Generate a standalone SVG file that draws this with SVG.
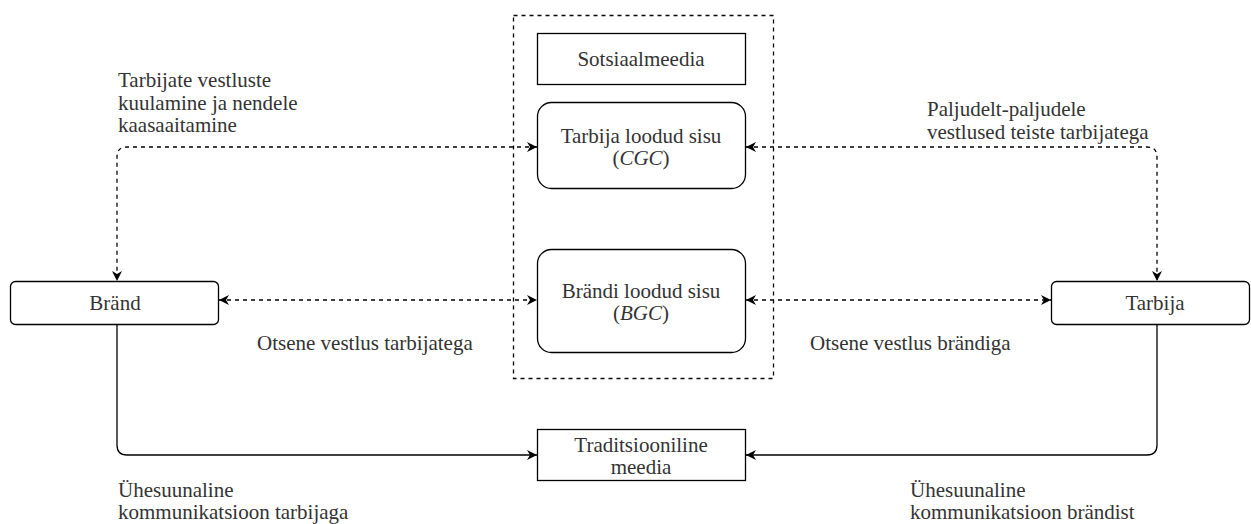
<svg xmlns="http://www.w3.org/2000/svg" width="1251" height="524" viewBox="0 0 1251 524">
<defs>
<style>
.box{fill:#fff;stroke:#000;stroke-width:1.3}
.t{font-family:"Liberation Serif","Times New Roman",serif;font-size:21px;fill:#333}
.c{text-anchor:middle}
.dash{fill:none;stroke:#000;stroke-width:1.3;stroke-dasharray:4 4}
.solid{fill:none;stroke:#000;stroke-width:1.3}
</style>
<marker id="ah" viewBox="0 0 10 10" refX="10" refY="5" markerWidth="10" markerHeight="10" markerUnits="userSpaceOnUse" orient="auto-start-reverse">
<path d="M0,0 L10,5 L0,10 L3,5 z" fill="#000"/>
</marker>
</defs>
<rect width="1251" height="524" fill="#fff"/>
<g id="container">
<rect x="513.5" y="15.5" width="260" height="363" fill="none" stroke="#000" stroke-width="1.3" stroke-dasharray="4 4"/>
</g>
<g id="connectors">
<path class="dash" d="M219,300 L537,300" marker-start="url(#ah)" marker-end="url(#ah)"/>
<path class="dash" d="M746,300 L1051,300" marker-start="url(#ah)" marker-end="url(#ah)"/>
<path class="dash" d="M537,147 L127,147 Q117,147 117,157 L117,281" marker-start="url(#ah)" marker-end="url(#ah)"/>
<path class="dash" d="M746,147 L1147,147 Q1157,147 1157,157 L1157,281" marker-start="url(#ah)" marker-end="url(#ah)"/>
<path class="solid" d="M117,325 L117,445 Q117,455 127,455 L537,455" marker-end="url(#ah)"/>
<path class="solid" d="M1157,325 L1157,445 Q1157,455 1147,455 L746,455" marker-end="url(#ah)"/>
</g>
<g id="sotsiaalmeedia">
<rect class="box" x="537.5" y="33.5" width="208" height="51"/>
<text class="t c" x="641" y="66">Sotsiaalmeedia</text>
</g>
<g id="cgc">
<rect class="box" x="537.5" y="102.5" width="208" height="86" rx="14"/>
<text class="t c" x="641" y="143">Tarbija loodud sisu</text>
<text class="t c" x="641" y="165">(<tspan font-style="italic">CGC</tspan>)</text>
</g>
<g id="bgc">
<rect class="box" x="537.5" y="249.5" width="208" height="103" rx="14"/>
<text class="t c" x="641" y="298">Brändi loodud sisu</text>
<text class="t c" x="641" y="320">(<tspan font-style="italic">BGC</tspan>)</text>
</g>
<g id="brand">
<rect class="box" x="10.5" y="281.5" width="208" height="43" rx="5"/>
<text class="t c" x="115" y="310">Bränd</text>
</g>
<g id="tarbija">
<rect class="box" x="1051.5" y="281.5" width="198" height="43" rx="5"/>
<text class="t c" x="1155" y="310">Tarbija</text>
</g>
<g id="trad">
<rect class="box" x="537.5" y="429.5" width="208" height="51"/>
<text class="t c" x="641" y="452">Traditsiooniline</text>
<text class="t c" x="641" y="474">meedia</text>
</g>
<g id="labels">
<text class="t" x="118" y="87">Tarbijate vestluste</text>
<text class="t" x="118" y="109.5">kuulamine ja nendele</text>
<text class="t" x="118" y="132">kaasaaitamine</text>
<text class="t" x="927" y="116">Paljudelt-paljudele</text>
<text class="t" x="927" y="138.5">vestlused teiste tarbijatega</text>
<text class="t" x="257" y="350">Otsene vestlus tarbijatega</text>
<text class="t" x="810" y="350">Otsene vestlus brändiga</text>
<text class="t" x="118" y="496.5">Ühesuunaline</text>
<text class="t" x="118" y="519">kommunikatsioon tarbijaga</text>
<text class="t" x="910" y="496.5">Ühesuunaline</text>
<text class="t" x="910" y="519">kommunikatsioon brändist</text>
</g>
</svg>
